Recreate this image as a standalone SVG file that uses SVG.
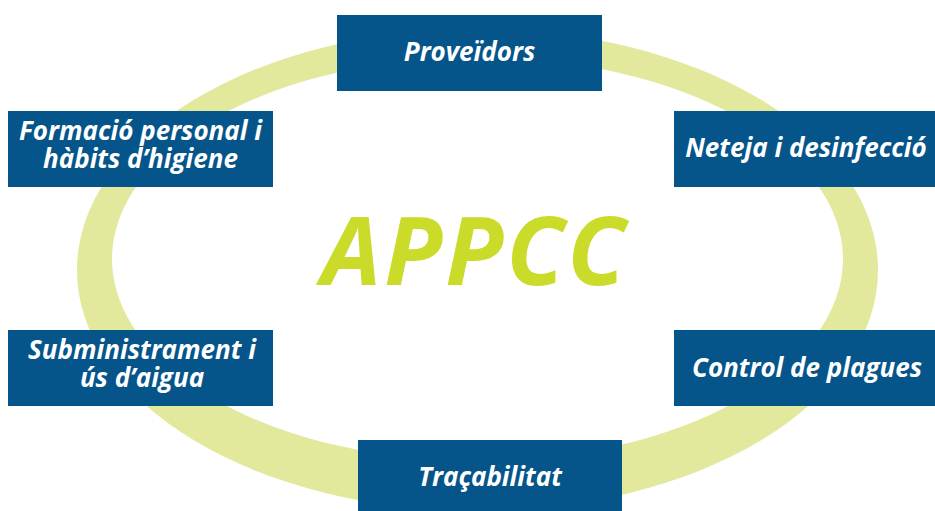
<svg xmlns="http://www.w3.org/2000/svg" width="935" height="511" viewBox="0 0 935 511">
<style>
.box{fill:#06558a}
.lbl{fill:#ffffff;font-family:"Open Sans","Liberation Sans",sans-serif;font-weight:700;font-style:italic;font-size:26px;text-anchor:middle}
.title{fill:#cbdb2a;font-family:"Open Sans","Liberation Sans",sans-serif;font-weight:700;font-style:italic;font-size:95px;letter-spacing:3px;text-anchor:middle}
</style>
<rect width="935" height="511" fill="#ffffff"/>
<g id="ring">
<path fill="#e2e89c" fill-rule="evenodd" d="M77,270 A400.5,241 0 1,0 878,270 A400.5,241 0 1,0 77,270 Z M112,259 A365.5,202 0 1,0 843,259 A365.5,202 0 1,0 112,259 Z"/>
</g>
<g id="center">
<text class="title" x="475" y="285">APPCC</text>
</g>
<g id="connectors"></g>
<g id="proveidors">
<rect class="box" x="337" y="15" width="265" height="76"/>
<text class="lbl" x="469.5" y="61">Proveïdors</text>
</g>
<g id="formacio">
<rect class="box" x="8" y="111" width="265" height="76"/>
<text class="lbl" x="140.5" y="140">Formació personal i</text>
<text class="lbl" x="140.5" y="168">hàbits d’higiene</text>
</g>
<g id="neteja">
<rect class="box" x="674" y="111" width="262" height="76"/>
<text class="lbl" x="806" y="157">Neteja i desinfecció</text>
</g>
<g id="subministrament">
<rect class="box" x="8" y="330" width="265" height="76"/>
<text class="lbl" x="142" y="359">Subministrament i</text>
<text class="lbl" x="142" y="387">ús d’aigua</text>
</g>
<g id="control">
<rect class="box" x="674" y="330" width="262" height="76"/>
<text class="lbl" x="807" y="377">Control de plagues</text>
</g>
<g id="tracabilitat">
<rect class="box" x="358" y="440" width="264" height="76"/>
<text class="lbl" x="490" y="486">Traçabilitat</text>
</g>
</svg>
